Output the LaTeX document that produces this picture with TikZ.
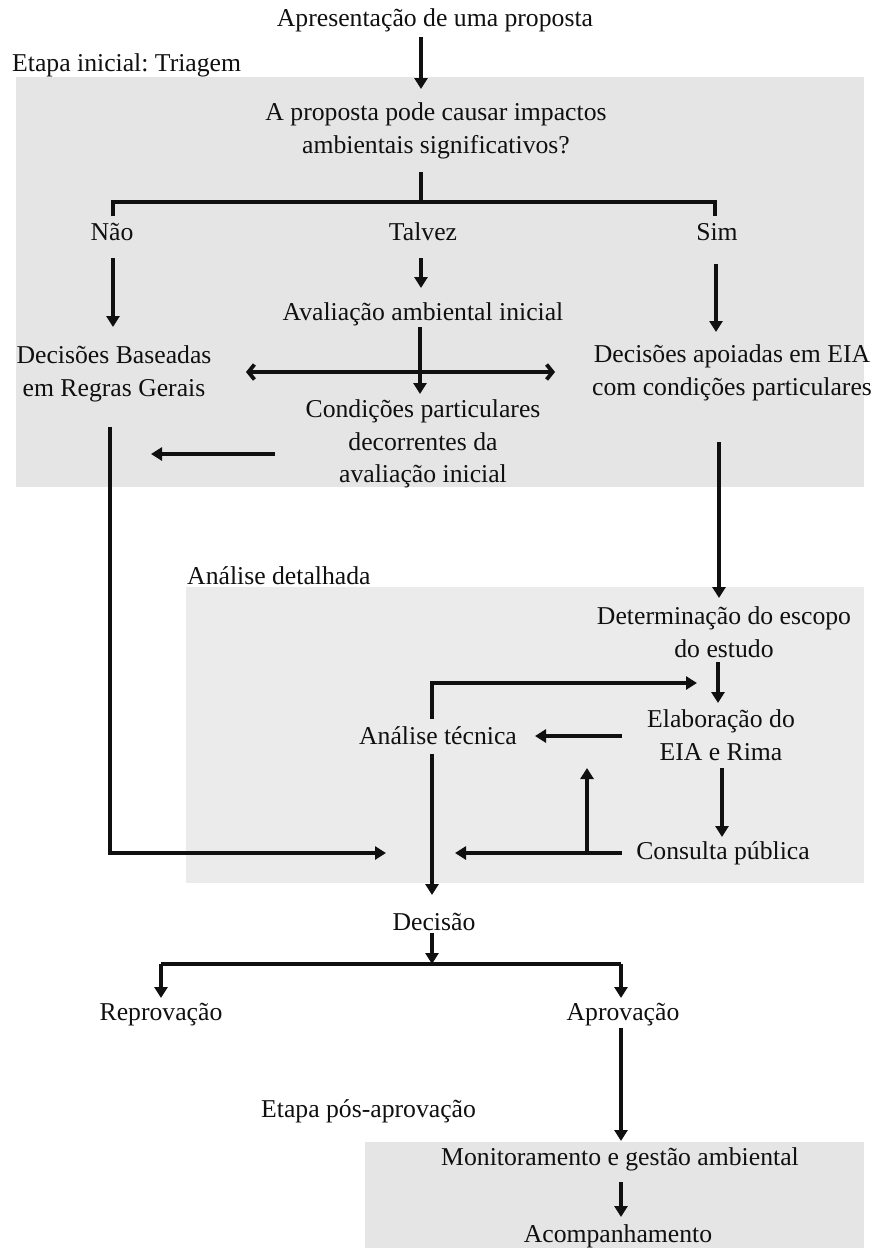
\documentclass[tikz,border=0pt]{standalone}
\usepackage{fontspec}
\setmainfont{Liberation Serif}
\frenchspacing
\usetikzlibrary{arrows.meta}
\definecolor{boxA}{HTML}{E5E5E5}
\definecolor{boxB}{HTML}{EBEBEB}
\definecolor{ink}{HTML}{101010}
\tikzset{
  txt/.style={inner sep=0pt, align=center, text=ink, font=\fontsize{25.7}{32.5}\selectfont},
  lbl/.style={txt, anchor=west},
  con/.style={draw=ink, line width=3.8pt},
  arr/.style={con, -{Triangle[length=11pt,width=13pt]}},
  dbl/.style={con, {Straight Barb[length=6pt,width=15pt]}-{Straight Barb[length=6pt,width=15pt]}}
}
\begin{document}
\begin{tikzpicture}[x=1pt,y=-1pt]
\useasboundingbox (0,0) rectangle (872,1248);
\fill[white] (0,0) rectangle (872,1248);
% stage backgrounds
\fill[boxA] (16,77) rectangle (864,487);
\fill[boxB] (186,587) rectangle (864,883);
\fill[boxA] (365,1142) rectangle (864,1248);

% texts
\node[txt] (apres) at (435,20) {Apresentação de uma proposta};
\node[lbl] (etapa1) at (12,65) {Etapa inicial: Triagem};
\node[txt] (quest) at (436,131) {A proposta pode causar impactos\\ambientais significativos?};
\node[txt] (nao) at (112,232) {Não};
\node[txt] (talvez) at (423,232) {Talvez};
\node[txt] (sim) at (717,232) {Sim};
\node[txt] (aval) at (423,314) {Avaliação ambiental inicial};
\node[txt] (decB) at (114,374) {Decisões Baseadas\\em Regras Gerais};
\node[txt] (decA) at (732,373) {Decisões apoiadas em EIA\\com condições particulares};
\node[txt] (cond) at (423,444) {Condições particulares\\decorrentes da\\avaliação inicial};
\node[lbl] (etapa2) at (187,576) {Análise detalhada};
\node[txt] (escopo) at (724,632) {Determinação do escopo\\do estudo};
\node[txt] (elab) at (721,735) {Elaboração do\\EIA e Rima};
\node[txt] (tec) at (438,736) {Análise técnica};
\node[txt] (cons) at (723,853) {Consulta pública};
\node[txt] (decisao) at (434,922) {Decisão};
\node[txt] (reprov) at (161,1015) {Reprovação};
\node[txt] (aprov) at (623,1015) {Aprovação};
\node[lbl] (etapa3) at (261,1111) {Etapa pós-aprovação};
\node[txt] (monit) at (620,1159) {Monitoramento e gestão ambiental};
\node[txt] (acomp) at (618,1236) {Acompanhamento};

% connector end points
\coordinate (apresOut) at (421,37);
\coordinate (questIn) at (421,89);
\coordinate (questOut) at (421,172);
\coordinate (branch) at (421,202);
\coordinate (naoTop) at (113,216);
\coordinate (simTop) at (715,216);
\coordinate (naoOut) at (113,258);
\coordinate (decBIn) at (113,327);
\coordinate (talvezOut) at (421,258);
\coordinate (avalIn) at (421,288);
\coordinate (simOut) at (716,264);
\coordinate (decAIn) at (716,332);
\coordinate (decBEnd) at (246,372);
\coordinate (decAEnd) at (555,372);
\coordinate (avalOut) at (420,327);
\coordinate (condIn) at (420,394);
\coordinate (condOut) at (275,454);
\coordinate (condTip) at (151,454);
\coordinate (decBOut) at (110,427);
\coordinate (decBCorner) at (110,853);
\coordinate (merge1) at (386,853);
\coordinate (decAOut) at (719,442);
\coordinate (escopoIn) at (719,598);
\coordinate (escopoOut) at (718,662);
\coordinate (elabIn) at (718,703);
\coordinate (tecTop) at (432,719);
\coordinate (tecCorner) at (432,683);
\coordinate (tecBack) at (697,683);
\coordinate (elabLeft) at (622,736);
\coordinate (tecRight) at (535,736);
\coordinate (elabOut) at (722,768);
\coordinate (consIn) at (722,837);
\coordinate (consLeft) at (622,853);
\coordinate (merge2) at (455,853);
\coordinate (consSplit) at (587,853);
\coordinate (elabBack) at (587,768);
\coordinate (tecOut) at (432,754);
\coordinate (decisaoIn) at (432,895);
\coordinate (decisaoOut) at (432,933);
\coordinate (split) at (432,964);
\coordinate (repTop) at (161,964);
\coordinate (aprTop) at (621,964);
\coordinate (repIn) at (161,998);
\coordinate (aprIn) at (621,998);
\coordinate (aprOut) at (621,1028);
\coordinate (monitIn) at (621,1141);
\coordinate (monitOut) at (621,1182);
\coordinate (acompIn) at (621,1217);

% connectors
\draw[arr] (apresOut) -- (questIn);
\draw[con] (questOut) -- (branch);
\draw[con] (naoTop) -- (naoTop |- branch) -- (simTop |- branch) -- (simTop);
\draw[arr] (naoOut) -- (decBIn);
\draw[arr] (talvezOut) -- (avalIn);
\draw[arr] (simOut) -- (decAIn);
\draw[dbl] (decBEnd) -- (decAEnd);
\draw[arr] (avalOut) -- (condIn);
\draw[arr] (condOut) -- (condTip);
\draw[arr] (decBOut) -- (decBCorner) -- (merge1);
\draw[arr] (decAOut) -- (escopoIn);
\draw[arr] (escopoOut) -- (elabIn);
\draw[arr] (tecTop) -- (tecCorner) -- (tecBack);
\draw[arr] (elabLeft) -- (tecRight);
\draw[arr] (elabOut) -- (consIn);
\draw[arr] (consLeft) -- (merge2);
\draw[arr] (consSplit) -- (elabBack);
\draw[arr] (tecOut) -- (decisaoIn);
\draw[arr] (decisaoOut) -- (split);
\draw[con] (repTop) -- (aprTop);
\draw[arr] (repTop) -- (repIn);
\draw[arr] (aprTop) -- (aprIn);
\draw[arr] (aprOut) -- (monitIn);
\draw[arr] (monitOut) -- (acompIn);
\end{tikzpicture}
\end{document}
